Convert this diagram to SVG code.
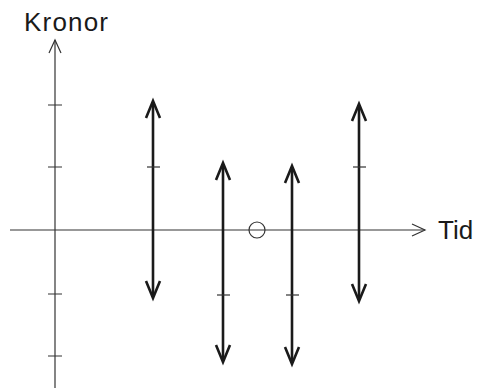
<svg xmlns="http://www.w3.org/2000/svg" width="479" height="388" viewBox="0 0 479 388">
<style>
.axis{stroke:#333;stroke-width:1.2;fill:none}
.tick{stroke:#333;stroke-width:1.2}
.flow{stroke:#1a1a1a;stroke-width:2.6;fill:none}
.head{stroke:#1a1a1a;stroke-width:2.6;fill:none;stroke-linejoin:miter}
text{font-family:"Liberation Sans",Arial,sans-serif;font-size:26px;fill:#1a1a1a}
</style>
<g id="axes">
<path class="axis" d="M55 40 V388"/>
<path class="axis" d="M49 53 L55 40 L61 53"/>
<path class="axis" d="M10 230 H425"/>
<path class="axis" d="M412 224 L425 230 L412 236"/>
<path class="tick" d="M48 105 H62 M48 167 H62 M48 294 H62 M48 356 H62"/>
</g>
<g id="label-kronor"><text x="24" y="31" textLength="84">Kronor</text></g>
<g id="label-tid"><text x="438" y="239">Tid</text></g>
<g id="zero"><circle cx="257" cy="230" r="8" fill="none" stroke="#333" stroke-width="1.2"/></g>
<g id="connectors">
<g id="flow1">
<path class="flow" d="M153 102 V297"/>
<path class="head" d="M146 118 L153 101 L160 118"/>
<path class="head" d="M146 281 L153 298 L160 281"/>
<path class="tick" d="M147 167 H160"/>
</g>
<g id="flow2">
<path class="flow" d="M223 164 V361"/>
<path class="head" d="M216 180 L223 163 L230 180"/>
<path class="head" d="M216 345 L223 362 L230 345"/>
<path class="tick" d="M217 295 H230"/>
</g>
<g id="flow3">
<path class="flow" d="M292 167 V363"/>
<path class="head" d="M285 183 L292 166 L299 183"/>
<path class="head" d="M285 347 L292 364 L299 347"/>
<path class="tick" d="M286 295 H299"/>
</g>
<g id="flow4">
<path class="flow" d="M359 105 V300"/>
<path class="head" d="M352 121 L359 104 L366 121"/>
<path class="head" d="M352 284 L359 301 L366 284"/>
<path class="tick" d="M353 167 H366"/>
</g>
</g>
</svg>
